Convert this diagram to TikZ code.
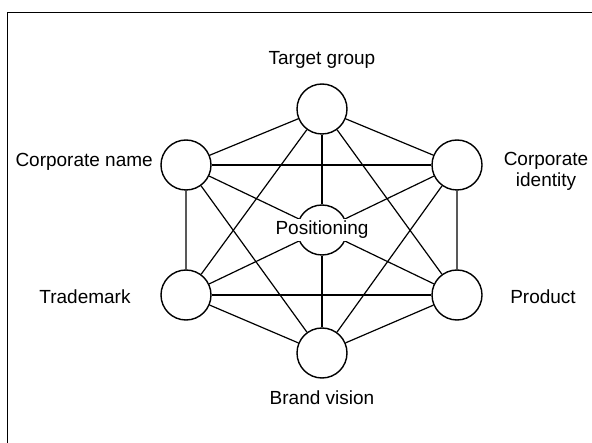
\documentclass[tikz,border=0pt]{standalone}
\usepackage{fontspec}
\setmainfont{Liberation Sans}
\tikzset{
	spot/.style={circle,draw,fill=white,line width=1.4,minimum size=50pt,inner sep=0pt},
	lbl/.style={font=\fontsize{19}{21}\selectfont,inner sep=0pt,align=center},
	link/.style={line width=1.2}
}
\begin{document}
\begin{tikzpicture}[x=1pt,y=1pt]
		\useasboundingbox (0,0) rectangle (592,442);
		\draw [line width=1.5] (7.5,-20) rectangle (620,429.5);
		\node[spot] (tg) at (322,333) {};
		\node[spot] (cn) at (186,277) {};
		\node[spot] (ci) at (457,277) {};
		\node[spot] (pos) at (322,212) {};
		\node[spot] (tm) at (186,147) {};
		\node[spot] (pr) at (457,147) {};
		\node[spot] (bv) at (322,89) {};
		% outer ring
		\draw [link] (tg) -- (ci) -- (pr) -- (bv) -- (tm) -- (cn) -- (tg);
		% chords
		\draw [link] (cn) -- (ci);
		\draw [link] (tm) -- (pr);
		\draw [link] (tg) -- (tm);
		\draw [link] (tg) -- (pr);
		\draw [link] (cn) -- (bv);
		\draw [link] (ci) -- (bv);
		% spokes to the centre
		\foreach \n in {tg,cn,ci,tm,pr,bv}
			\draw [link] (\n) -- (pos);
		\node[lbl,fill=white,inner sep=2pt] (postext) at (pos) {Positioning};
		\node[lbl] (tgtext) at (322,382) {Target group};
		\node[lbl,anchor=east] (cntext) at (153,280) {Corporate name};
		\node[lbl] (citext) at (546,271) {Corporate\\identity};
		\node[lbl] (tmtext) at (85,145) {Trademark};
		\node[lbl] (prtext) at (543,145) {Product};
		\node[lbl] (bvtext) at (322,44) {Brand vision};
	\end{tikzpicture}
\end{document}
